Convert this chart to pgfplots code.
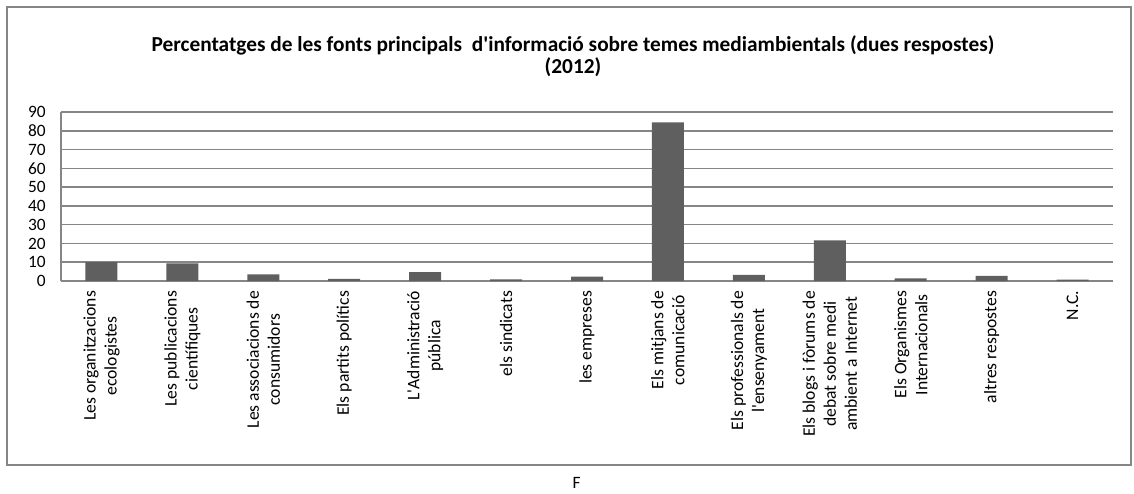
\documentclass[border=0pt]{standalone}
\usepackage{fontspec}
\setmainfont{Carlito}
\usepackage{pgfplots}
\pgfplotsset{compat=1.18}
\definecolor{bargray}{RGB}{95,95,95}
\definecolor{gridgray}{RGB}{134,134,134}
\begin{document}
\begin{tikzpicture}
\useasboundingbox (-45.75pt,-159pt) rectangle (804.75pt,210.75pt);
\draw[gridgray, line width=1.1pt] (-40.5pt,-138pt) rectangle (802.5pt,205.5pt);
\begin{axis}[
  at={(0pt,0pt)}, anchor=south west,
  scale only axis, width=789pt, height=126.75pt,
  ybar, bar width=24pt,
  xmin=-0.5, xmax=12.5, ymin=0, ymax=90,
  ytick={0,10,...,90},
  xtick=data,
  xticklabels={
    {Les organitzacions\\ecologistes},
    {Les publicacions\\científiques},
    {Les associacions de\\consumidors},
    {Els partits polítics},
    {L\textquotesingle Administració\\pública},
    {els sindicats},
    {les empreses},
    {Els mitjans de\\comunicació},
    {Els professionals de\\l\textquotesingle ensenyament},
    {Els blogs i fòrums de\\debat sobre medi\\ambient a Internet},
    {Els Organismes\\Internacionals},
    {altres respostes},
    {N.C.}},
  axis lines*=left,
  axis line style={gridgray, line width=1.1pt},
  ymajorgrids, grid style={gridgray, line width=1.1pt},
  major tick length=0pt,
  tick style={draw=none},
  /pgf/number format/assume math mode=true,
  yticklabel style={font=\fontsize{13}{15}\selectfont, xshift=-8pt},
  xticklabel style={rotate=90, anchor=east, align=center, font=\fontsize{13.2}{15.75}\selectfont},
  xticklabel shift=4pt,
  xlabel={F},
  xlabel style={at={(axis description cs:0.49,0)}, anchor=center, yshift=-151.5pt, font=\fontsize{13}{15}\selectfont},
]
\addplot[fill=bargray, draw=none] coordinates {
  (0,10.1) (1,9.4) (2,3.5) (3,1.2) (4,4.7) (5,0.9) (6,2.3)
  (7,84.5) (8,3.2) (9,21.6) (10,1.4) (11,2.7) (12,0.7)
};
\end{axis}
\node[align=center, font=\fontsize{16}{16.5}\selectfont\bfseries] at (384pt,168.75pt)
  {Percentatges de les fonts principals~ d\textquotesingle informació sobre temes mediambientals (dues respostes)\\(2012)};
\end{tikzpicture}
\end{document}
